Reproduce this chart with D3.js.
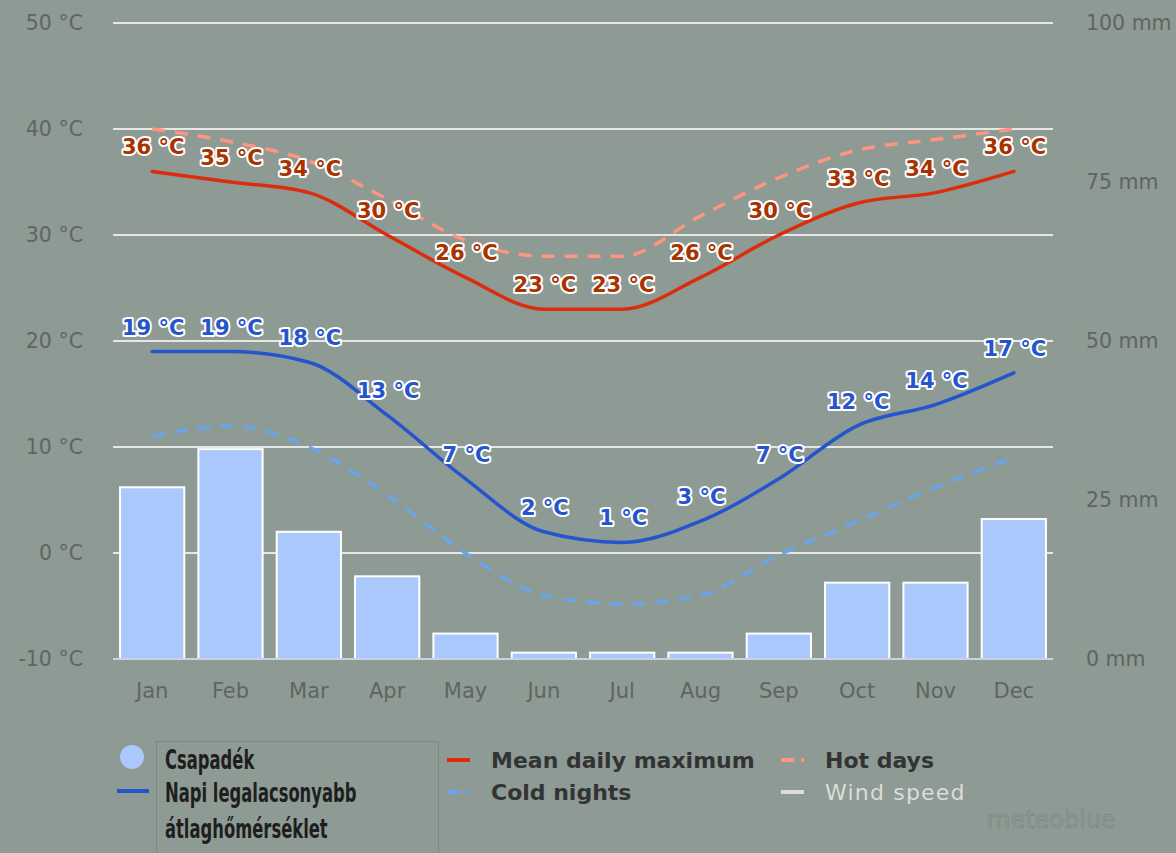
<!DOCTYPE html>
<html>
<head>
<meta charset="utf-8">
<script src="https://cdn.jsdelivr.net/npm/d3@7"></script>
<style>
  body { margin: 0; background: #8e9a94; }
  svg { display: block; }
</style>
</head>
<body>
<div id="chart"></div>
<script>
// climate data
var months = ["Jan","Feb","Mar","Apr","May","Jun","Jul","Aug","Sep","Oct","Nov","Dec"];
var precip = [27, 33, 20, 13, 4, 1, 1, 1, 4, 12, 12, 22];            // mm
var maxTemp = [36, 35, 34, 30, 26, 23, 23, 26, 30, 33, 34, 36];      // mean daily maximum
var minTemp = [19, 19, 18, 13, 7, 2, 1, 3, 7, 12, 14, 17];           // mean daily minimum
var hotDays = [40, 38.8, 37, 33.4, 29.5, 28, 28, 31.8, 35.4, 38, 39, 40];
var coldNights = [11, 12, 10, 5.5, 0, -4, -4.8, -4, -0.2, 3, 6.2, 9];
var tempTicks = [-10, 0, 10, 20, 30, 40, 50];
var precipTicks = [0, 25, 50, 75, 100];

(function() {
var W = 1176, H = 853;
var plotLeft = 113, plotRight = 1053, plotTop = 23, plotBottom = 659;

var svg = d3.select("#chart").append("svg")
    .attr("width", W)
    .attr("height", H);

svg.append("rect").attr("width", W).attr("height", H).attr("fill", "#8e9a94");

var x = d3.scaleBand()
    .domain(months)
    .range([plotLeft, plotRight])
    .paddingInner(0.18)
    .paddingOuter(0.09);
var cx = function(m) { return x(m) + x.bandwidth() / 2; };

var yT = d3.scaleLinear().domain([-10, 50]).range([plotBottom, plotTop]);
var yP = d3.scaleLinear().domain([0, 100]).range([plotBottom, plotTop]);

// grid
svg.append("g").selectAll("line")
    .data(tempTicks.slice(1))
    .enter().append("line")
    .attr("x1", plotLeft).attr("x2", plotRight)
    .attr("y1", yT).attr("y2", yT)
    .attr("stroke", "#e6e6e6")
    .attr("stroke-width", 2);

// left axis labels
svg.append("g").selectAll("text")
    .data(tempTicks)
    .enter().append("text")
    .attr("x", 83)
    .attr("y", function(d) { return yT(d) + 7; })
    .attr("text-anchor", "end")
    .attr("font-family", "DejaVu Sans, sans-serif")
    .attr("font-size", 20.5)
    .attr("fill", "#5f6563")
    .text(function(d) { return d + " °C"; });

// right axis labels
svg.append("g").selectAll("text")
    .data(precipTicks)
    .enter().append("text")
    .attr("x", 1086)
    .attr("y", function(d) { return yP(d) + 7; })
    .attr("font-family", "DejaVu Sans, sans-serif")
    .attr("font-size", 20.5)
    .attr("fill", "#5f6563")
    .text(function(d) { return d + " mm"; });

// precipitation bars
svg.append("g").selectAll("rect")
    .data(precip)
    .enter().append("rect")
    .attr("x", function(d, i) { return x(months[i]); })
    .attr("width", x.bandwidth())
    .attr("y", function(d) { return yP(d); })
    .attr("height", function(d) { return yP(0) - yP(d); })
    .attr("fill", "#abc8fc")
    .attr("stroke", "#ffffff")
    .attr("stroke-width", 2);

// bottom axis line
svg.append("line")
    .attr("x1", plotLeft).attr("x2", plotRight)
    .attr("y1", plotBottom).attr("y2", plotBottom)
    .attr("stroke", "#c9d2e2")
    .attr("stroke-width", 2);

// month labels
svg.append("g").selectAll("text")
    .data(months)
    .enter().append("text")
    .attr("x", cx)
    .attr("y", 698)
    .attr("text-anchor", "middle")
    .attr("font-family", "DejaVu Sans, sans-serif")
    .attr("font-size", 21)
    .attr("fill", "#5f6563")
    .text(function(d) { return d; });

var line = d3.line()
    .x(function(d, i) { return cx(months[i]); })
    .y(function(d) { return yT(d); })
    .curve(d3.curveMonotoneX);

function drawLine(data, color, dashed) {
    svg.append("path")
        .attr("d", line(data))
        .attr("fill", "none")
        .attr("stroke", color)
        .attr("stroke-width", dashed ? 3.5 : 3.5)
        .attr("stroke-linecap", dashed ? "butt" : "round")
        .attr("stroke-dasharray", dashed ? "13,10" : null);
}

drawLine(coldNights, "#69a5ea", true);
drawLine(hotDays, "#ff9580", true);
drawLine(minTemp, "#2455cc", false);
drawLine(maxTemp, "#dd2c0c", false);

function drawLabels(data, color) {
    svg.append("g").selectAll("text")
        .data(data)
        .enter().append("text")
        .attr("x", function(d, i) { return cx(months[i]) + 1; })
        .attr("y", function(d) { return yT(d) - 17; })
        .attr("text-anchor", "middle")
        .attr("font-family", "DejaVu Sans, sans-serif")
        .attr("font-weight", "bold")
        .attr("font-size", 21)
        .attr("fill", color)
        .attr("stroke", "#ffffff")
        .attr("stroke-width", 4)
        .attr("stroke-linejoin", "round")
        .attr("paint-order", "stroke")
        .text(function(d) { return d + " °C"; });
}
drawLabels(maxTemp, "#a63300");
drawLabels(minTemp, "#2455cc");

//////////// legend
var legend = svg.append("g");

legend.append("rect")
    .attr("x", 156.5).attr("y", 741.5)
    .attr("width", 282).attr("height", 130)
    .attr("fill", "none")
    .attr("stroke", "#78888c")
    .attr("stroke-width", 1);

legend.append("circle")
    .attr("cx", 132).attr("cy", 757).attr("r", 12)
    .attr("fill", "#abc8fc");
legend.append("line")
    .attr("x1", 117).attr("x2", 149).attr("y1", 791).attr("y2", 791)
    .attr("stroke", "#2455cc").attr("stroke-width", 4);

// condensed bold text: no narrow font installed, so squeeze DejaVu Bold
var narrowLines = ["Csapadék", "Napi legalacsonyabb", "átlaghőmérséklet"];
legend.selectAll("text.narrow")
    .data(narrowLines)
    .enter().append("text")
    .attr("class", "narrow")
    .attr("transform", function(d, i) {
        return "translate(165," + [769, 802, 838][i] + ") scale(0.63,1)";
    })
    .attr("font-family", "DejaVu Sans, sans-serif")
    .attr("font-weight", "bold")
    .attr("font-size", 26)
    .attr("fill", "#1e1e1e")
    .text(function(d) { return d; });

var items = [
    {label: "Mean daily maximum", color: "#dd2c0c", dash: null, x: 447, y: 760, text: "#333333"},
    {label: "Cold nights", color: "#69a5ea", dash: "13,7,3", x: 447, y: 792, text: "#333333"},
    {label: "Hot days", color: "#ff9580", dash: "13,7,3", x: 781, y: 760, text: "#333333"},
    {label: "Wind speed", color: "#dcdcdc", dash: null, x: 781, y: 792, text: "#dcdcdc"}
];
items.forEach(function(it) {
    legend.append("line")
        .attr("x1", it.x).attr("x2", it.x + 23)
        .attr("y1", it.y).attr("y2", it.y)
        .attr("stroke", it.color)
        .attr("stroke-width", 4)
        .attr("stroke-dasharray", it.dash);
    legend.append("text")
        .attr("x", it.x + 44)
        .attr("y", it.y + 8)
        .attr("font-family", "DejaVu Sans, sans-serif")
        .attr("font-weight", it.label == "Wind speed" ? "normal" : "bold")
        .attr("letter-spacing", it.label == "Wind speed" ? 1.2 : 0)
        .attr("font-size", 22)
        .attr("fill", it.text)
        .text(it.label);
});

// watermark
svg.append("text")
    .attr("x", 987)
    .attr("y", 828)
    .attr("font-family", "DejaVu Sans, sans-serif")
    .attr("font-size", 24)
    .attr("fill", "none")
    .attr("stroke", "#747e7a")
    .attr("stroke-width", 0.5)
    .text("meteoblue");
})();
</script>
</body>
</html>
